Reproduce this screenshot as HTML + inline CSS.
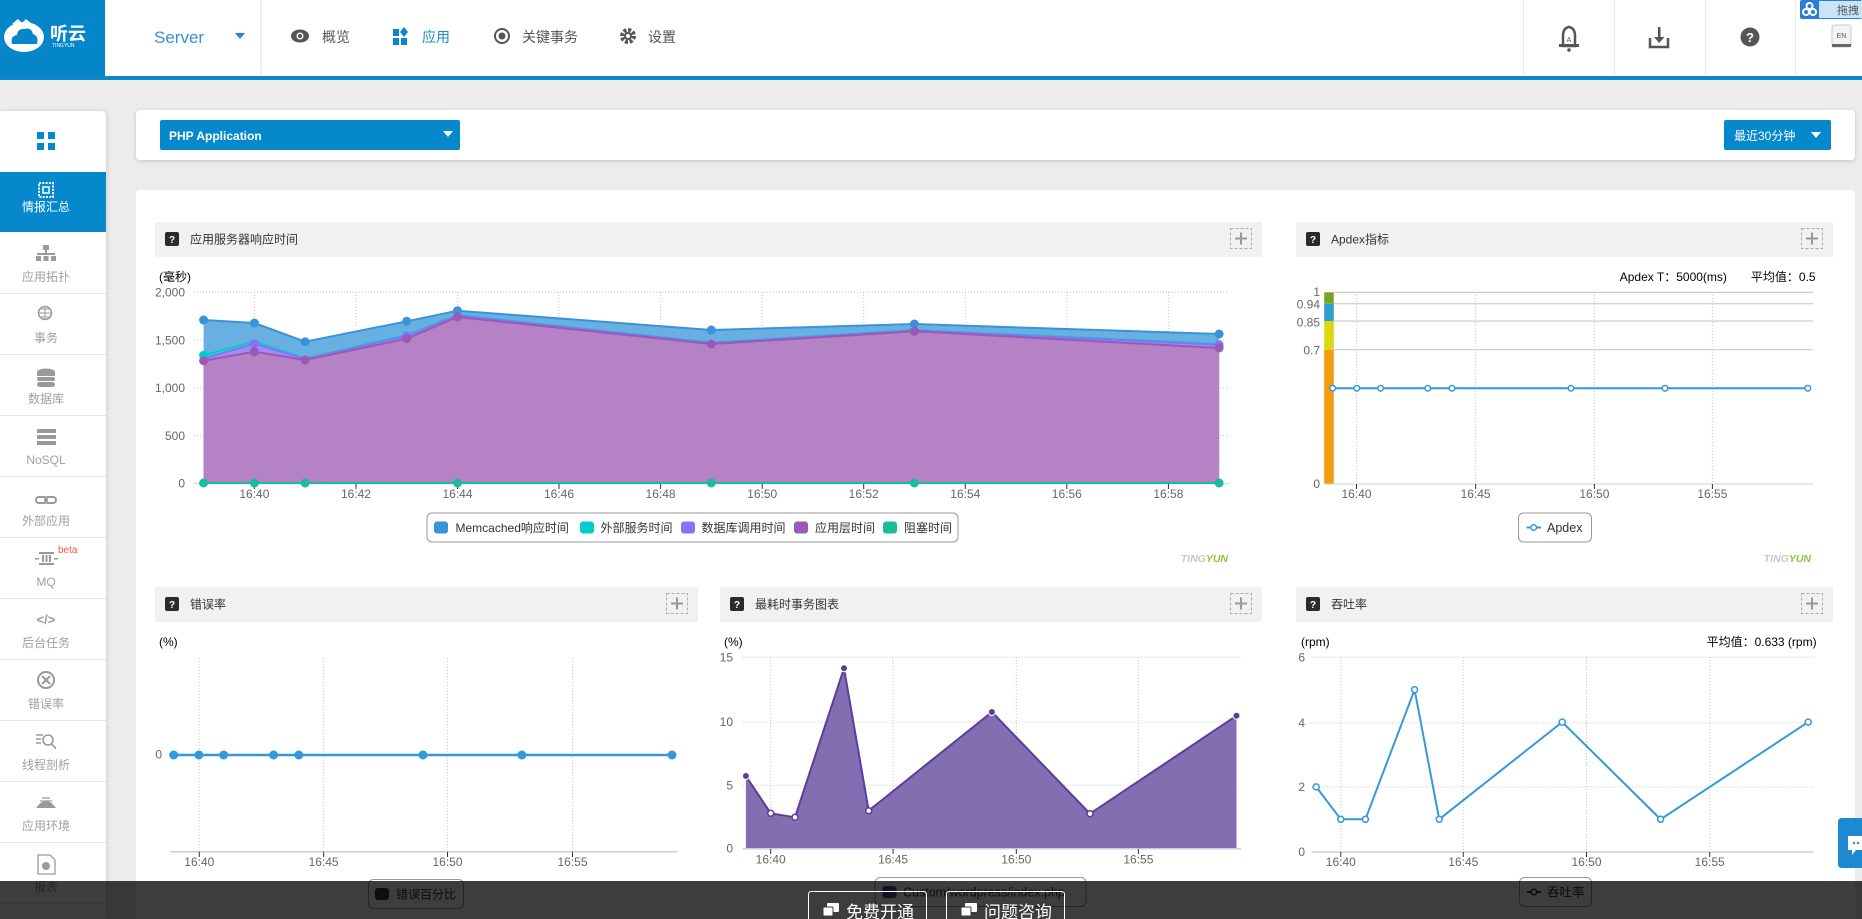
<!DOCTYPE html>
<html><head><meta charset="utf-8">
<style>
*{margin:0;padding:0;box-sizing:border-box}
html,body{width:1862px;height:919px;overflow:hidden;background:#ececec;font-family:"Liberation Sans","Noto Sans CJK SC",sans-serif;position:relative}
.abs{position:absolute}
#hdr{left:0;top:0;width:1862px;height:76px;background:#fff}
#bar{left:0;top:76px;width:1862px;height:4px;background:#0588cc}
#side{left:0;top:111px;width:106px;height:808px;background:#fff;border-radius:0 4px 0 0;box-shadow:1px 0 4px rgba(0,0,0,.12)}
#top{left:136px;top:110px;width:1719px;height:50px;background:#fff;border-radius:4px;box-shadow:0 1px 4px rgba(0,0,0,.18)}
#main{left:136px;top:190px;width:1719px;height:729px;background:#fff;border-radius:4px 4px 0 0}
#ov{left:0;top:881px;width:1862px;height:38px;background:rgba(0,0,0,.76)}
svg text{font-family:"Liberation Sans","Noto Sans CJK SC",sans-serif}
</style></head><body>
<div id="hdr" class="abs"></div>
<div id="bar" class="abs"></div>
<div id="side" class="abs"></div>
<div id="top" class="abs"></div>
<div id="main" class="abs"></div>

<svg class="abs" style="left:0;top:0" width="1862" height="919" viewBox="0 0 1862 919">
<!-- ===== HEADER ===== -->
<rect x="0" y="0" width="105" height="76" fill="#0586cb"/>
<g fill="#fff">
  <ellipse cx="24" cy="37" rx="20" ry="15"/>
  <path d="M12 24 L18 19 L22 23 L26 19 L32 24 Z"/>
</g>
<path d="M12 44 Q10 36 17 35 Q18 28 25 29 Q31 27 33 34 Q39 36 37 44 Z" fill="#0586cb"/>
<text x="50" y="40" font-size="18" fill="#fff" font-weight="bold">听云</text>
<text x="52" y="47" font-size="5" fill="#fff">TINGYUN</text>
<text x="154" y="43" font-size="17" fill="#3a8fd8">Server</text>
<path d="M235 33 L245 33 L240 39 Z" fill="#1a8ad4"/>
<rect x="260" y="0" width="2" height="76" fill="#eeeeee"/>
<!-- nav -->
<g fill="#555">
  <ellipse cx="300" cy="36" rx="9" ry="6.5"/>
</g>
<circle cx="300" cy="36" r="3.5" fill="#fff"/><circle cx="300" cy="36" r="2" fill="#555"/>
<text x="322" y="42" font-size="14" fill="#555">概览</text>
<g fill="#0a87d0"><rect x="393" y="29" width="6" height="7"/><rect x="393" y="38" width="6" height="7"/><rect x="401" y="38" width="6" height="7"/><path d="M404 27 L408 32 L404 37 L400 32 Z"/></g>
<text x="422" y="42" font-size="14" fill="#1a8ad4">应用</text>
<circle cx="502" cy="36" r="7" fill="none" stroke="#555" stroke-width="2"/><circle cx="502" cy="36" r="3.5" fill="#555"/>
<text x="522" y="42" font-size="14" fill="#555">关键事务</text>
<circle cx="628" cy="36" r="6" fill="none" stroke="#555" stroke-width="4" stroke-dasharray="3 1.7"/><circle cx="628" cy="36" r="4" fill="#555"/><circle cx="628" cy="36" r="2" fill="#fff"/>
<text x="648" y="42" font-size="14" fill="#555">设置</text>
<!-- right header -->
<g fill="#ececec"><rect x="1523" y="0" width="1" height="76"/><rect x="1614" y="0" width="1" height="76"/><rect x="1705" y="0" width="1" height="76"/><rect x="1795" y="0" width="1" height="76"/></g>
<path d="M1563 46 L1563 36 Q1563 28 1569 27 Q1575 28 1575 36 L1575 46 Z" fill="none" stroke="#555" stroke-width="2.5"/>
<rect x="1559" y="44" width="20" height="3" fill="#555"/><circle cx="1569" cy="50" r="1.8" fill="#555"/>
<text x="1569" y="42" font-size="7" fill="#555" text-anchor="middle">A</text>
<path d="M1650 38 L1650 47 L1668 47 L1668 38" fill="none" stroke="#555" stroke-width="2.5"/>
<rect x="1658" y="27" width="2.5" height="12" fill="#555"/><path d="M1654 37 L1664.5 37 L1659.2 43 Z" fill="#555"/>
<circle cx="1750" cy="37" r="9.5" fill="#555"/>
<text x="1750" y="42" font-size="13" font-weight="bold" fill="#fff" text-anchor="middle">?</text>
<rect x="1832" y="25" width="19" height="22" rx="2" fill="#f4f4f4" stroke="#ccc"/><rect x="1832" y="44" width="19" height="3" fill="#666"/>
<text x="1841.5" y="38" font-size="7" fill="#555" text-anchor="middle">EN</text>
<rect x="1800" y="0" width="62" height="19" fill="#2a7fd4" rx="2"/>
<rect x="1819" y="1" width="43" height="17" fill="#c8e4f7"/>
<g fill="none" stroke="#fff" stroke-width="2"><circle cx="1806" cy="12" r="3"/><circle cx="1813" cy="12" r="3"/><circle cx="1809.5" cy="6" r="3"/></g>
<text x="1837" y="14" font-size="11" fill="#555">拖拽</text>

<!-- ===== TOP PANEL ===== -->
<rect x="160" y="120" width="300" height="30" rx="2" fill="#0588cc"/>
<text x="169" y="140" font-size="12" font-weight="bold" fill="#fff">PHP Application</text>
<path d="M443 131 L453 131 L448 137 Z" fill="#fff"/>
<rect x="1724" y="120" width="107" height="30" rx="2" fill="#0588cc"/>
<text x="1734" y="140" font-size="12" fill="#fff">最近30分钟</text>
<path d="M1811 132 L1821 132 L1816 138 Z" fill="#fff"/>

<!-- ===== SIDEBAR ===== -->
<g fill="#0588cc"><rect x="37" y="132" width="7" height="7"/><rect x="48" y="132" width="7" height="7"/><rect x="37" y="143" width="7" height="7"/><rect x="48" y="143" width="7" height="7"/></g>
<rect x="0" y="172" width="106" height="60" fill="#0588cc"/>
<rect x="39" y="183" width="14" height="14" fill="none" stroke="#fff" stroke-width="2" stroke-dasharray="2 1.3"/><rect x="43" y="187" width="6" height="6" fill="none" stroke="#fff" stroke-width="1.5"/>
<text x="46" y="211" font-size="12" fill="#fff" text-anchor="middle">情报汇总</text>
<g fill="#e6e6e6"><rect x="0" y="293" width="106" height="1"/><rect x="0" y="354" width="106" height="1"/><rect x="0" y="415" width="106" height="1"/><rect x="0" y="476" width="106" height="1"/><rect x="0" y="537" width="106" height="1"/><rect x="0" y="598" width="106" height="1"/><rect x="0" y="659" width="106" height="1"/><rect x="0" y="720" width="106" height="1"/><rect x="0" y="781" width="106" height="1"/><rect x="0" y="842" width="106" height="1"/><rect x="0" y="903" width="106" height="1"/></g>
<g fill="#9a9a9a">
<rect x="43" y="245" width="6" height="5"/><rect x="45" y="250" width="2" height="4"/><rect x="37" y="253" width="18" height="2"/><rect x="36" y="256" width="5" height="5"/><rect x="43.5" y="256" width="5" height="5"/><rect x="51" y="256" width="5" height="5"/>
<ellipse cx="46" cy="372" rx="9" ry="3.5"/><rect x="37" y="372" width="18" height="4"/><rect x="37" y="377" width="18" height="4" rx="2"/><rect x="37" y="382" width="18" height="5" rx="3"/>
<rect x="37" y="429" width="19" height="4"/><rect x="37" y="435" width="19" height="4"/><rect x="37" y="441" width="19" height="4"/>
<rect x="39" y="552" width="15" height="2"/><rect x="39" y="563" width="15" height="2"/><rect x="42" y="555" width="2" height="7"/><rect x="45.5" y="555" width="2" height="7"/><rect x="49" y="555" width="2" height="7"/><rect x="35" y="558" width="4" height="1.5"/><rect x="54" y="558" width="4" height="1.5"/>
</g>
<circle cx="45" cy="313" r="6.5" fill="none" stroke="#9a9a9a" stroke-width="1.6"/><path d="M38.5 313 H51.5 M45 306.5 V319.5 M40 309 H50 M40 317 H50" stroke="#9a9a9a" stroke-width="1"/>
<g fill="none" stroke="#9a9a9a" stroke-width="2"><rect x="36" y="497" width="11" height="6" rx="3"/><rect x="45" y="497" width="11" height="6" rx="3"/></g>
<text x="46" y="624" font-size="13" font-weight="bold" fill="#9a9a9a" text-anchor="middle">&lt;/&gt;</text>
<circle cx="46" cy="680" r="8" fill="none" stroke="#9a9a9a" stroke-width="2"/><path d="M42 676 L50 684 M50 676 L42 684" stroke="#9a9a9a" stroke-width="2"/>
<g stroke="#9a9a9a" stroke-width="1.6" fill="none"><circle cx="48" cy="740" r="5"/><path d="M51.5 744 L56 748.5 M36 735 H43 M36 739 H41 M36 743 H41"/></g>
<path d="M36 808 Q46 794 56 808 Z" fill="#9a9a9a"/><path d="M40 801 H52 M42 798 H50" stroke="#9a9a9a" stroke-width="1.3"/>
<path d="M38 855 H50 L55 860 V874 H38 Z" fill="#fff" stroke="#9a9a9a" stroke-width="1.3"/><circle cx="46" cy="866" r="4" fill="#9a9a9a"/>
<g font-size="12" fill="#a0a0a0" text-anchor="middle">
<text x="46" y="281">应用拓扑</text>
<text x="46" y="342">事务</text>
<text x="46" y="403">数据库</text>
<text x="46" y="464">NoSQL</text>
<text x="46" y="525">外部应用</text>
<text x="46" y="586">MQ</text>
<text x="46" y="647">后台任务</text>
<text x="46" y="708">错误率</text>
<text x="46" y="769">线程剖析</text>
<text x="46" y="830">应用环境</text>
<text x="46" y="891">报表</text>
</g>
<text x="58" y="553" font-size="10" fill="#f15a4a">beta</text>

<!-- ===== CHART HEADERS ===== -->
<g fill="#f1f1f1">
<rect x="155" y="222" width="1107" height="35"/>
<rect x="1296" y="222" width="537" height="35"/>
<rect x="155" y="587" width="543" height="35"/>
<rect x="720" y="587" width="542" height="35"/>
<rect x="1296" y="587" width="537" height="35"/>
</g>
<g fill="#2b2b2b">
<rect x="165" y="232" width="14" height="14" rx="2"/>
<rect x="1306" y="232" width="14" height="14" rx="2"/>
<rect x="165" y="597" width="14" height="14" rx="2"/>
<rect x="730" y="597" width="14" height="14" rx="2"/>
<rect x="1306" y="597" width="14" height="14" rx="2"/>
</g>
<g font-size="10" font-weight="bold" fill="#fff" text-anchor="middle">
<text x="172" y="243">?</text><text x="1313" y="243">?</text><text x="172" y="608">?</text><text x="737" y="608">?</text><text x="1313" y="608">?</text>
</g>
<g font-size="12" fill="#333">
<text x="190" y="243.5">应用服务器响应时间</text>
<text x="1331" y="243.5">Apdex指标</text>
<text x="190" y="608.5">错误率</text>
<text x="755" y="608.5">最耗时事务图表</text>
<text x="1331" y="608.5">吞吐率</text>
</g>
<g fill="none" stroke="#aaa" stroke-dasharray="3 2">
<rect x="1230.5" y="228.5" width="21" height="20"/>
<rect x="1801.5" y="228.5" width="21" height="20"/>
<rect x="666.5" y="593.5" width="21" height="20"/>
<rect x="1230.5" y="593.5" width="21" height="20"/>
<rect x="1801.5" y="593.5" width="21" height="20"/>
</g>
<g stroke="#999" stroke-width="2">
<path d="M1235 238.5 H1247 M1241 232.5 V244.5"/>
<path d="M1806 238.5 H1818 M1812 232.5 V244.5"/>
<path d="M671 603.5 H683 M677 597.5 V609.5"/>
<path d="M1235 603.5 H1247 M1241 597.5 V609.5"/>
<path d="M1806 603.5 H1818 M1812 597.5 V609.5"/>
</g>

<!-- ===== CHART 1: response time ===== -->
<text x="159" y="281" font-size="12" fill="#000">(毫秒)</text>
<g stroke="#c4c4c4" stroke-dasharray="1 2" fill="none">
<path d="M194 292.3 H1229 M194 340 H1229 M194 387.8 H1229 M194 435.5 H1229"/>
<path d="M254.4 292 V483 M356 292 V483 M457.5 292 V483 M559 292 V483 M660.6 292 V483 M762.2 292 V483 M863.7 292 V483 M965.3 292 V483 M1066.8 292 V483 M1168.4 292 V483"/>
</g>
<path d="M203.6 320 L254.4 323 L305.1 341.7 L406.7 321.3 L457.5 310.7 L711.3 330 L914.4 324 L1219.1 334 L1219.1 483.3 L203.6 483.3 Z" fill="#68b0e2"/>
<path d="M203.6 355.3 L254.4 341.5 L305.1 358.5 L406.7 335 L457.5 315 L711.3 342.5 L914.4 330 L1219.1 344 L1219.1 483.3 L203.6 483.3 Z" fill="#3ccbd2"/>
<path d="M203.6 358.7 L254.4 343.7 L305.1 359 L406.7 336 L457.5 315.5 L711.3 343 L914.4 330.5 L1219.1 344.7 L1219.1 483.3 L203.6 483.3 Z" fill="#9d8cf2"/>
<path d="M203.6 360.7 L254.4 351.7 L305.1 360 L406.7 338.7 L457.5 317 L711.3 344 L914.4 331.3 L1219.1 348 L1219.1 483.3 L203.6 483.3 Z" fill="#b482c5"/>
<g fill="none" stroke-width="2" stroke-linejoin="round">
<path d="M203.6 320 L254.4 323 L305.1 341.7 L406.7 321.3 L457.5 310.7 L711.3 330 L914.4 324 L1219.1 334" stroke="#3993d8"/>
<path d="M203.6 355.3 L254.4 341.5 L305.1 358.5 L406.7 335 L457.5 315 L711.3 342.5 L914.4 330 L1219.1 344" stroke="#00cdcb"/>
<path d="M203.6 358.7 L254.4 343.7 L305.1 359 L406.7 336 L457.5 315.5 L711.3 343 L914.4 330.5 L1219.1 344.7" stroke="#8573f7"/>
<path d="M203.6 360.7 L254.4 351.7 L305.1 360 L406.7 338.7 L457.5 317 L711.3 344 L914.4 331.3 L1219.1 348" stroke="#9b59b6"/>
</g>
<path d="M194 483.8 H1229" stroke="#c0d0e0"/>
<path d="M203.6 483 H1219.1" stroke="#1abc9c" stroke-width="2"/>
<g stroke="#333"><path d="M254.4 484 V489 M356 484 V489 M457.5 484 V489 M559 484 V489 M660.6 484 V489 M762.2 484 V489 M863.7 484 V489 M965.3 484 V489 M1066.8 484 V489 M1168.4 484 V489"/></g>
<g fill="#3993d8"><circle cx="203.6" cy="320" r="4.5"/><circle cx="254.4" cy="323" r="4.5"/><circle cx="305.1" cy="341.7" r="4.5"/><circle cx="406.7" cy="321.3" r="4.5"/><circle cx="457.5" cy="310.7" r="4.5"/><circle cx="711.3" cy="330" r="4.5"/><circle cx="914.4" cy="324" r="4.5"/><circle cx="1219.1" cy="334" r="4.5"/></g>
<g fill="#00cdcb"><circle cx="203.6" cy="355.3" r="4.5"/></g>
<g fill="#8573f7"><circle cx="254.4" cy="343.7" r="4.5"/><circle cx="406.7" cy="336" r="4.5"/><circle cx="1219.1" cy="344.7" r="4.5"/></g>
<g fill="#9b59b6"><circle cx="203.6" cy="360.7" r="4.5"/><circle cx="254.4" cy="351.7" r="4.5"/><circle cx="305.1" cy="360" r="4.5"/><circle cx="406.7" cy="338.7" r="4.5"/><circle cx="457.5" cy="317" r="4.5"/><circle cx="711.3" cy="344" r="4.5"/><circle cx="914.4" cy="331.3" r="4.5"/><circle cx="1219.1" cy="348" r="4.5"/></g>
<g fill="#1abc9c"><circle cx="203.6" cy="483" r="4.5"/><circle cx="254.4" cy="483" r="4.5"/><circle cx="305.1" cy="483" r="4.5"/><circle cx="457.5" cy="483" r="4.5"/><circle cx="711.3" cy="483" r="4.5"/><circle cx="914.4" cy="483" r="4.5"/><circle cx="1219.1" cy="483" r="4.5"/></g>
<g font-size="12" fill="#666" text-anchor="end">
<text x="185" y="296.5">2,000</text><text x="185" y="344.5">1,500</text><text x="185" y="392">1,000</text><text x="185" y="440">500</text><text x="185" y="487.5">0</text>
</g>
<g font-size="12" fill="#666" text-anchor="middle">
<text x="254.4" y="498">16:40</text><text x="356" y="498">16:42</text><text x="457.5" y="498">16:44</text><text x="559" y="498">16:46</text><text x="660.6" y="498">16:48</text><text x="762.2" y="498">16:50</text><text x="863.7" y="498">16:52</text><text x="965.3" y="498">16:54</text><text x="1066.8" y="498">16:56</text><text x="1168.4" y="498">16:58</text>
</g>
<rect x="427" y="513" width="531" height="29" rx="5" fill="#fff" stroke="#999"/>
<rect x="434" y="521.5" width="14" height="12" rx="3" fill="#3993d8"/>
<rect x="580" y="521.5" width="14" height="12" rx="3" fill="#00cdcb"/>
<rect x="681" y="521.5" width="14" height="12" rx="3" fill="#8573f7"/>
<rect x="794" y="521.5" width="14" height="12" rx="3" fill="#9b59b6"/>
<rect x="883" y="521.5" width="14" height="12" rx="3" fill="#1abc9c"/>
<g font-size="12" fill="#333">
<text x="455.5" y="532">Memcached响应时间</text><text x="600.5" y="532">外部服务时间</text><text x="701.5" y="532">数据库调用时间</text><text x="815" y="532">应用层时间</text><text x="904" y="532">阻塞时间</text>
</g>
<text x="1228" y="562" font-size="10.5" font-weight="bold" font-style="italic" text-anchor="end"><tspan fill="#c8c8c8">TING</tspan><tspan fill="#8dc63f">YUN</tspan></text>

<!-- ===== CHART 2: Apdex ===== -->
<text x="1815.6" y="281" font-size="12" fill="#000" text-anchor="end">Apdex T：5000(ms)　　平均值：0.5</text>
<rect x="1324.2" y="292.3" width="9.6" height="11.5" fill="#77a722"/>
<rect x="1324.2" y="303.8" width="9.6" height="17.2" fill="#2e9fd0"/>
<rect x="1324.2" y="321" width="9.6" height="28.7" fill="#dcd80f"/>
<rect x="1324.2" y="349.7" width="9.6" height="134" fill="#f39c12"/>
<g stroke="#c4c4c4"><path d="M1333.8 292.3 H1813 M1333.8 303.8 H1813 M1333.8 321 H1813 M1333.8 349.7 H1813"/></g>
<g stroke="#c4c4c4" stroke-dasharray="1 2"><path d="M1356.5 292 V483 M1475.6 292 V483 M1594.4 292 V483 M1712.4 292 V483"/></g>
<path d="M1324 484 H1813" stroke="#c0d0e0"/>
<g stroke="#333"><path d="M1356.5 484 V489 M1475.6 484 V489 M1594.4 484 V489 M1712.4 484 V489"/></g>
<path d="M1332.7 388.3 H1807.8" stroke="#3498db" stroke-width="2"/>
<g fill="#fff" stroke="#3498db" stroke-width="1.5"><circle cx="1332.7" cy="388.3" r="2.8"/><circle cx="1356.8" cy="388.3" r="2.8"/><circle cx="1380.6" cy="388.3" r="2.8"/><circle cx="1427.7" cy="388.3" r="2.8"/><circle cx="1451.9" cy="388.3" r="2.8"/><circle cx="1571" cy="388.3" r="2.8"/><circle cx="1665" cy="388.3" r="2.8"/><circle cx="1807.8" cy="388.3" r="2.8"/></g>
<g font-size="12" fill="#666" text-anchor="end">
<text x="1320" y="296">1</text><text x="1320" y="308.5">0.94</text><text x="1320" y="326.5">0.85</text><text x="1320" y="354.5">0.7</text><text x="1320" y="488">0</text>
</g>
<g font-size="12" fill="#666" text-anchor="middle">
<text x="1356.5" y="498">16:40</text><text x="1475.6" y="498">16:45</text><text x="1594.4" y="498">16:50</text><text x="1712.4" y="498">16:55</text>
</g>
<rect x="1518.5" y="513" width="73" height="29" rx="5" fill="#fff" stroke="#999"/>
<path d="M1526.5 527.5 H1541" stroke="#3498db" stroke-width="2"/><circle cx="1533.7" cy="527.5" r="2.8" fill="#fff" stroke="#3498db" stroke-width="1.5"/>
<text x="1547" y="532" font-size="12.5" fill="#333">Apdex</text>
<text x="1811" y="562" font-size="10.5" font-weight="bold" font-style="italic" text-anchor="end"><tspan fill="#c8c8c8">TING</tspan><tspan fill="#8dc63f">YUN</tspan></text>

<!-- ===== CHART 3: error rate ===== -->
<text x="159" y="646" font-size="12" fill="#000">(%)</text>
<g stroke="#c4c4c4" stroke-dasharray="1 2"><path d="M199.3 658 V851 M323.6 658 V851 M447.5 658 V851 M572.5 658 V851"/></g>
<path d="M170 851.7 H677" stroke="#c0d0e0" stroke-width="1.5"/>
<g stroke="#333"><path d="M199.3 852 V857 M323.6 852 V857 M447.5 852 V857 M572.5 852 V857"/></g>
<text x="162" y="758.5" font-size="12" fill="#666" text-anchor="end">0</text>
<path d="M173.7 755 H672" stroke="#3498db" stroke-width="2.5"/>
<g fill="#3498db"><circle cx="173.7" cy="755" r="4.5"/><circle cx="198.9" cy="755" r="4.5"/><circle cx="223.7" cy="755" r="4.5"/><circle cx="273.6" cy="755" r="4.5"/><circle cx="298.8" cy="755" r="4.5"/><circle cx="423" cy="755" r="4.5"/><circle cx="521.9" cy="755" r="4.5"/><circle cx="672" cy="755" r="4.5"/></g>
<g font-size="12" fill="#666" text-anchor="middle">
<text x="199.3" y="866">16:40</text><text x="323.6" y="866">16:45</text><text x="447.5" y="866">16:50</text><text x="572.5" y="866">16:55</text>
</g>
<rect x="368.5" y="879.5" width="95" height="29" rx="5" fill="#fff" stroke="#999"/>
<rect x="375" y="888" width="14" height="12" rx="3" fill="#2c3e50"/>
<text x="396" y="898.5" font-size="12" fill="#333">错误百分比</text>

<!-- ===== CHART 4: slowest transactions ===== -->
<text x="724" y="646" font-size="12" fill="#000">(%)</text>
<g stroke="#c4c4c4" stroke-dasharray="1 2" fill="none">
<path d="M742.6 657.3 H1241 M742.6 722 H1241 M742.6 785.3 H1241"/>
<path d="M770.7 657 V848 M893.1 657 V848 M1016.3 657 V848 M1138.4 657 V848"/>
</g>
<path d="M745.9 776 L770.7 813.3 L795 817.3 L844 668.3 L868.7 810.7 L991.9 712 L1090 813.7 L1236.5 715.7 L1236.5 848.3 L745.9 848.3 Z" fill="#826eb0"/>
<path d="M745.9 776 L770.7 813.3 L795 817.3 L844 668.3 L868.7 810.7 L991.9 712 L1090 813.7 L1236.5 715.7" fill="none" stroke="#5b3e9c" stroke-width="2" stroke-linejoin="round"/>
<path d="M742.6 848.8 H1241" stroke="#c0d0e0" stroke-width="1.5"/>
<g stroke="#333"><path d="M770.7 849 V854 M893.1 849 V854 M1016.3 849 V854 M1138.4 849 V854"/></g>
<g stroke="#fff" stroke-width="1">
<circle cx="745.9" cy="776" r="3.5" fill="#5b3e9c"/><circle cx="844" cy="668.3" r="3.5" fill="#5b3e9c"/><circle cx="991.9" cy="712" r="3.5" fill="#5b3e9c"/><circle cx="1236.5" cy="715.7" r="3.5" fill="#5b3e9c"/>
</g>
<g fill="#fff" stroke="#5b3e9c" stroke-width="1.5">
<circle cx="770.7" cy="813.3" r="3"/><circle cx="795" cy="817.3" r="3"/><circle cx="868.7" cy="810.7" r="3"/><circle cx="1090" cy="813.7" r="3"/>
</g>
<g font-size="12" fill="#666" text-anchor="end">
<text x="733" y="661.5">15</text><text x="733" y="726">10</text><text x="733" y="789.5">5</text><text x="733" y="852.5">0</text>
</g>
<g font-size="12" fill="#666" text-anchor="middle">
<text x="770.7" y="863.5">16:40</text><text x="893.1" y="863.5">16:45</text><text x="1016.3" y="863.5">16:50</text><text x="1138.4" y="863.5">16:55</text>
</g>
<rect x="875" y="877.5" width="211" height="29" rx="5" fill="#fff" stroke="#999"/>
<rect x="882.5" y="886" width="14" height="12" rx="3" fill="#5b3e9c"/>
<text x="903" y="896.5" font-size="12.5" fill="#333">Custom/wordpress/index.php</text>

<!-- ===== CHART 5: throughput ===== -->
<text x="1301" y="646" font-size="12" fill="#000">(rpm)</text>
<text x="1816.6" y="646" font-size="12" fill="#000" text-anchor="end">平均值：0.633 (rpm)</text>
<g stroke="#c4c4c4" stroke-dasharray="1 2" fill="none">
<path d="M1311.6 657.3 H1813.3 M1311.6 722.7 H1813.3 M1311.6 787 H1813.3"/>
<path d="M1340.8 657 V851 M1463.3 657 V851 M1586.5 657 V851 M1709.7 657 V851"/>
</g>
<path d="M1311.6 852 H1813.3" stroke="#c0d0e0" stroke-width="1.5"/>
<g stroke="#333"><path d="M1340.8 852 V857 M1463.3 852 V857 M1586.5 852 V857 M1709.7 852 V857"/></g>
<path d="M1316.2 786.9 L1340.8 819.3 L1365.4 819.3 L1414.6 689.7 L1439.2 819.3 L1562.2 722.1 L1660.6 819.3 L1808.2 722.1" fill="none" stroke="#3498db" stroke-width="2" stroke-linejoin="round"/>
<g fill="#fff" stroke="#3498db" stroke-width="1.5">
<circle cx="1316.2" cy="786.9" r="3"/><circle cx="1340.8" cy="819.3" r="3"/><circle cx="1365.4" cy="819.3" r="3"/><circle cx="1414.6" cy="689.7" r="3"/><circle cx="1439.2" cy="819.3" r="3"/><circle cx="1562.2" cy="722.1" r="3"/><circle cx="1660.6" cy="819.3" r="3"/><circle cx="1808.2" cy="722.1" r="3"/>
</g>
<g font-size="12" fill="#666" text-anchor="end">
<text x="1305" y="661.5">6</text><text x="1305" y="727">4</text><text x="1305" y="791">2</text><text x="1305" y="856">0</text>
</g>
<g font-size="12" fill="#666" text-anchor="middle">
<text x="1340.8" y="866">16:40</text><text x="1463.3" y="866">16:45</text><text x="1586.5" y="866">16:50</text><text x="1709.7" y="866">16:55</text>
</g>
<rect x="1519.5" y="877.5" width="72" height="29" rx="5" fill="#fff" stroke="#999"/>
<path d="M1527 892 H1541" stroke="#2c3e50" stroke-width="2"/><circle cx="1534" cy="892" r="2.8" fill="#fff" stroke="#2c3e50" stroke-width="1.5"/>
<text x="1547" y="896.5" font-size="12.5" fill="#333">吞吐率</text>

<!-- chat button right -->
<path d="M1842 818 H1862 V868 H1842 Q1838 868 1838 864 V822 Q1838 818 1842 818 Z" fill="#1e88d0"/>
<path d="M1848 836 H1862 V850 H1856 L1852 855 V850 H1848 Z" fill="#fff"/>
<circle cx="1854" cy="843" r="1.2" fill="#1e88d0"/><circle cx="1858" cy="843" r="1.2" fill="#1e88d0"/>
</svg>

<div id="ov" class="abs"></div>
<svg class="abs" style="left:0;top:0;pointer-events:none" width="1862" height="919" viewBox="0 0 1862 919">
<path d="M808.5 919 V894.5 Q808.5 891.5 811.5 891.5 H923.5 Q926.5 891.5 926.5 894.5 V919" fill="none" stroke="#fff"/>
<path d="M946.5 919 V894.5 Q946.5 891.5 949.5 891.5 H1061.5 Q1064.5 891.5 1064.5 894.5 V919" fill="none" stroke="#fff"/>
<g fill="#fff">
<rect x="827" y="903" width="12" height="9" rx="1"/><path d="M829 912 L829 916 L833 912 Z"/><rect x="823" y="907" width="10" height="9" rx="1" stroke="#3d3d3d" stroke-width="1"/>
<rect x="965" y="903" width="12" height="9" rx="1"/><path d="M967 912 L967 916 L971 912 Z"/><rect x="961" y="907" width="10" height="9" rx="1" stroke="#3d3d3d" stroke-width="1"/>
</g>
<text x="846" y="918" font-size="17" fill="#fff">免费开通</text>
<text x="984" y="918" font-size="17" fill="#fff">问题咨询</text>
</svg>
</body></html>
